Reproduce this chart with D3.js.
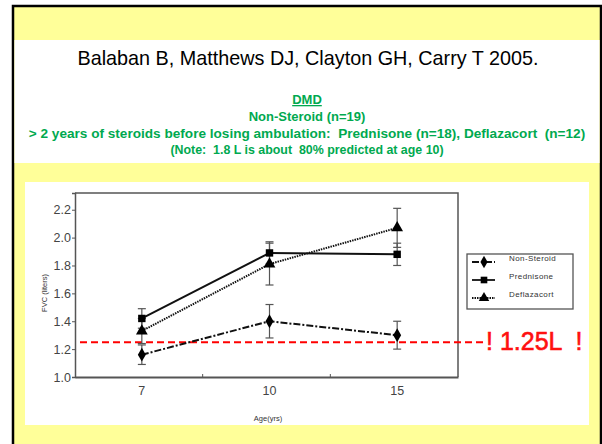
<!DOCTYPE html>
<html><head><meta charset="utf-8">
<script src="https://cdn.jsdelivr.net/npm/d3@7"></script>
<style>html,body{margin:0;padding:0;background:#fff;}svg{display:block;}text{white-space:pre;}</style>
</head><body>
<svg id="c" width="602" height="444"></svg>
<script>
// ---- data ----
const ages = ["7", "10", "15"];
const nonSteroid = [1.16, 1.40, 1.30];
const nonSteroidErr = [0.07, 0.12, 0.10];
const prednisone = [1.42, 1.89, 1.88];
const prednisoneErr = [0.07, 0.08, 0.08];
const deflazacort = [1.33, 1.81, 2.07];
const deflazacortErr = [0.09, 0.15, 0.14];
const yTicks = [1.0, 1.2, 1.4, 1.6, 1.8, 2.0, 2.2];
const seriesNames = ["Non-Steroid", "Prednisone", "Deflazacort"];
const threshold = 1.25;
const thresholdLabel = "! 1.25L  !";
const titleText = "Balaban B, Matthews DJ, Clayton GH, Carry T 2005.";
const subLines = ["DMD", "Non-Steroid (n=19)",
  "> 2 years of steroids before losing ambulation:  Prednisone (n=18), Deflazacort  (n=12)",
  "(Note:  1.8 L is about  80% predicted at age 10)"];

const svg = d3.select("#c");
const FONT = "'Liberation Sans', Arial, sans-serif";
const GREEN = "#00a94f";

// slide background
svg.append("rect").attr("x", 13).attr("y", 6).attr("width", 588).attr("height", 460)
  .attr("fill", "#ffff99").attr("stroke", "#000").attr("stroke-width", 2.5);
svg.append("rect").attr("x", 14.5).attr("y", 40).attr("width", 585).attr("height", 123).attr("fill", "#fff");
svg.append("rect").attr("x", 25).attr("y", 182).attr("width", 564).attr("height", 243).attr("fill", "#fff");

// titles
svg.append("text").attr("x", 308).attr("y", 65).attr("text-anchor", "middle")
  .attr("font-family", FONT).attr("font-size", 19.8).attr("fill", "#000").text(titleText);
const subY = [104, 121, 138, 154];
const subSize = [13, 13, 13.6, 12.4];
subLines.forEach((t, i) => {
  svg.append("text").attr("x", 307).attr("y", subY[i]).attr("text-anchor", "middle")
    .attr("xml:space", "preserve")
    .attr("font-family", FONT).attr("font-weight", "bold").attr("font-size", subSize[i])
    .attr("fill", GREEN).attr("text-decoration", i === 0 ? "underline" : null).text(t);
});

// scales
const x = d3.scaleBand().domain(ages).range([75, 458]);
const xc = a => x(a) + x.bandwidth() / 2 + 3;
const y = d3.scaleLinear().domain([1.0, 2.32]).range([377, 193]);

const AX = "#555";
// frame
svg.append("path").attr("d", `M${x.range()[0]},${y(2.32)}H${x.range()[1]}V${y(1.0)}`)
  .attr("fill", "none").attr("stroke", AX).attr("stroke-width", 1.5);

// y axis
const yAxis = svg.append("g").attr("transform", `translate(75,0)`)
  .call(d3.axisLeft(y).tickValues(yTicks).tickFormat(d3.format(".1f")).tickSize(3).tickPadding(1));
yAxis.select(".domain").attr("stroke", AX).attr("stroke-width", 1.5);
yAxis.selectAll("line").attr("stroke", AX);
yAxis.selectAll("text").attr("font-family", FONT).attr("font-size", 12.5).attr("fill", "#444");

// x axis with ticks at band boundaries
const xAxis = svg.append("g").attr("transform", `translate(0,377)`)
  .call(d3.axisBottom(x).tickSize(0).tickPadding(9));
xAxis.select(".domain").attr("stroke", AX).attr("stroke-width", 1.8);
xAxis.selectAll("text").attr("font-family", FONT).attr("font-size", 12.5).attr("fill", "#444")
  .attr("dx", 3);
ages.slice(1).forEach(a => {
  svg.append("line").attr("x1", x(a)).attr("x2", x(a)).attr("y1", 377).attr("y2", 374)
    .attr("stroke", AX).attr("stroke-width", 1);
});

// axis titles
svg.append("text").attr("x", 268).attr("y", 421).attr("text-anchor", "middle")
  .attr("font-family", FONT).attr("font-size", 7.5).attr("fill", "#333").text("Age(yrs)");
svg.append("text").attr("transform", "translate(47,293) rotate(-90)").attr("text-anchor", "middle")
  .attr("font-family", FONT).attr("font-size", 7.5).attr("fill", "#333").text("FVC (liters)");

// threshold line
svg.append("line").attr("x1", 80).attr("x2", 484).attr("y1", y(threshold)).attr("y2", y(threshold))
  .attr("stroke", "#ff0000").attr("stroke-width", 2).attr("stroke-dasharray", "7,4");
svg.append("text").attr("x", 486).attr("y", 350).attr("font-family", FONT).attr("font-size", 25)
  .attr("fill", "#ff1010").attr("stroke", "#ff1010").attr("stroke-width", 0.6)
  .attr("xml:space", "preserve").text(thresholdLabel);

// series
const series = [
  {name: seriesNames[0], vals: nonSteroid, err: nonSteroidErr, dash: "7,2,2,2", sym: d3.symbolDiamond, size: 55},
  {name: seriesNames[1], vals: prednisone, err: prednisoneErr, dash: null, sym: d3.symbolSquare, size: 55},
  {name: seriesNames[2], vals: deflazacort, err: deflazacortErr, dash: "1.5,1", sym: d3.symbolTriangle, size: 60}
];
const line = d3.line().x((d, i) => xc(ages[i])).y(d => y(d));

series.forEach(s => {
  s.vals.forEach((v, i) => {
    const cx = xc(ages[i]);
    const g = svg.append("g").attr("stroke", "#555").attr("stroke-width", 1.2);
    g.append("line").attr("x1", cx).attr("x2", cx).attr("y1", y(v - s.err[i])).attr("y2", y(v + s.err[i]));
    [v - s.err[i], v + s.err[i]].forEach(e => g.append("line").attr("x1", cx - 4).attr("x2", cx + 4)
      .attr("y1", y(e)).attr("y2", y(e)));
  });
});
series.forEach(s => {
  svg.append("path").attr("d", line(s.vals)).attr("fill", "none").attr("stroke", "#111")
    .attr("stroke-width", 2).attr("stroke-dasharray", s.dash);
  s.vals.forEach((v, i) => {
    svg.append("path").attr("d", d3.symbol(s.sym, s.size)())
      .attr("transform", `translate(${xc(ages[i])},${y(v)})`).attr("fill", "#000");
  });
});

// legend
const lg = svg.append("g");
lg.append("rect").attr("x", 467).attr("y", 254).attr("width", 106).attr("height", 55)
  .attr("fill", "#fff").attr("stroke", "#555").attr("stroke-width", 1.3);
const legY = [262, 280, 298];
series.forEach((s, i) => {
  lg.append("line").attr("x1", 472).attr("x2", 495).attr("y1", legY[i]).attr("y2", legY[i])
    .attr("stroke", "#111").attr("stroke-width", 1.8).attr("stroke-dasharray", s.dash);
  lg.append("path").attr("d", d3.symbol(s.sym, s.size * 0.8)()).attr("transform", `translate(484,${legY[i]})`)
    .attr("fill", "#000");
  lg.append("text").attr("x", 509).attr("y", legY[i] - 1).attr("font-family", FONT).attr("font-size", 8)
    .attr("letter-spacing", 0.4).attr("fill", "#333").text(s.name);
});
</script>
</body></html>
